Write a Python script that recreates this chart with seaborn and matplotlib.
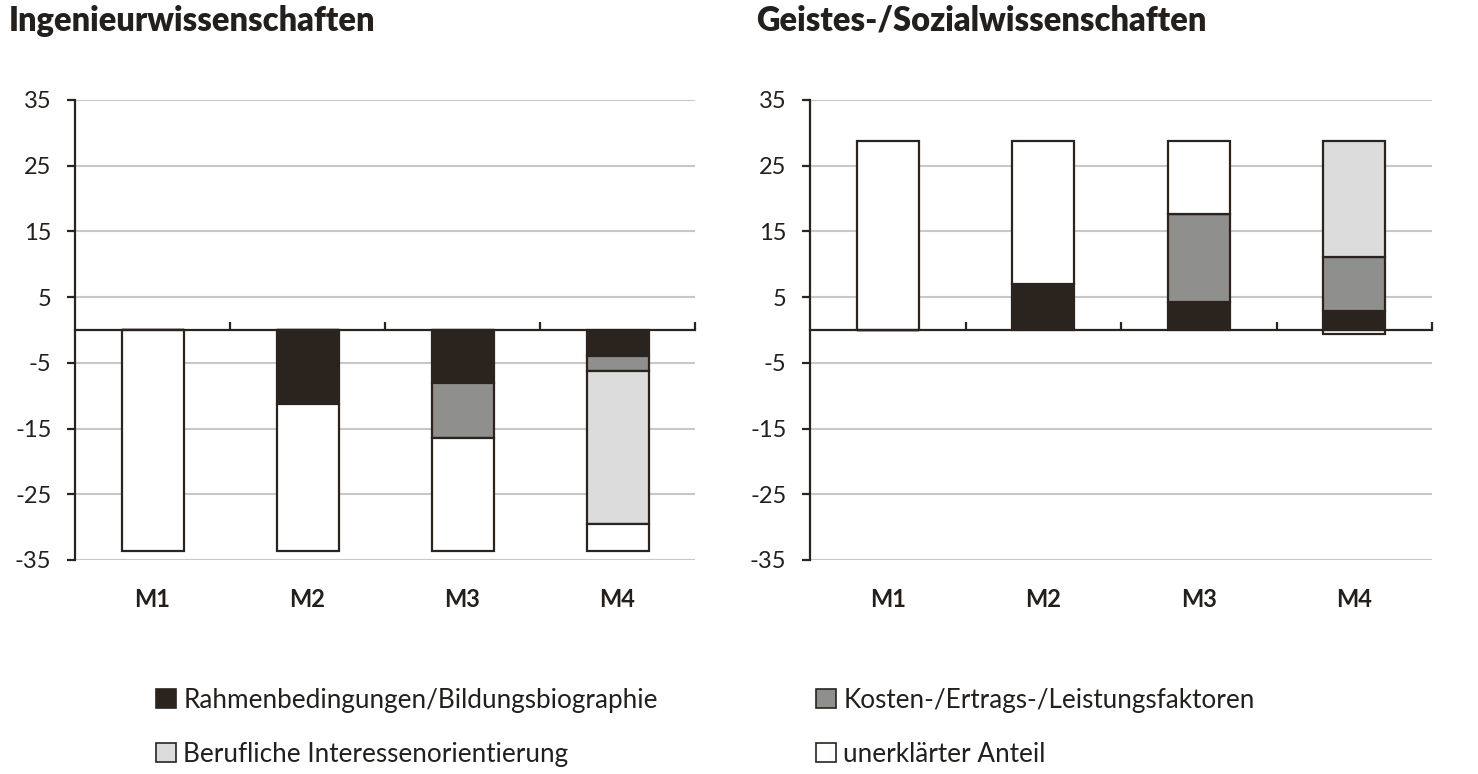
import matplotlib
matplotlib.use("Agg")
import matplotlib.pyplot as plt
import seaborn as sns
import numpy as np
import pandas as pd
from matplotlib.patches import Patch
from matplotlib.ticker import FixedLocator

# Data
models = ["M1", "M2", "M3", "M4"]
components = ["Rahmenbedingungen/Bildungsbiographie",
              "Kosten-/Ertrags-/Leistungsfaktoren",
              "Berufliche Interessenorientierung",
              "unerklärter Anteil"]

ing_rahmen = [0.0, -11.2, -8.1, -4.0]
ing_kosten = [0.0, 0.0, -8.3, -2.2]
ing_beruf = [0.0, 0.0, 0.0, -23.3]
ing_rest = [-33.6, -22.4, -17.2, -4.1]

geist_rahmen = [0.0, 7.0, 4.3, 2.9]
geist_kosten = [0.0, 0.0, 13.3, 8.2]
geist_beruf = [0.0, 0.0, 0.0, 17.7]
geist_rest = [28.8, 21.8, 11.2, -0.6]

titles = ["Ingenieurwissenschaften", "Geistes-/Sozialwissenschaften"]
yticks = [35, 25, 15, 5, -5, -15, -25, -35]

colors = ["#2b231e", "#8f8f8d", "#dcdcdc", "#ffffff"]
edge = "#2b231e"
text_col = "#231f1c"

sns.set_style("white")
plt.rcParams["font.family"] = ["Lato", "DejaVu Sans"]
plt.rcParams["text.color"] = text_col
plt.rcParams["axes.unicode_minus"] = False


def draw_panel(ax, series, title, title_x):
    df = pd.DataFrame({"Modell": models})
    pos = np.zeros(len(models))
    neg = np.zeros(len(models))
    for name, vals, col in zip(components, series, colors):
        vals = np.array(vals)
        # positive and negative parts stack separately (like Excel)
        bottom = np.where(vals >= 0, pos, neg)
        df["wert"] = vals
        sns.barplot(data=df, x="Modell", y="wert", order=models, color=col,
                    width=0.4, bottom=bottom, edgecolor=edge, linewidth=1.6,
                    saturation=1, errorbar=None, ax=ax, zorder=3)
        pos = pos + np.where(vals >= 0, vals, 0)
        neg = neg + np.where(vals < 0, vals, 0)

    ax.set_ylim(-35, 35)
    ax.set_xlim(-0.5, 3.5)
    ax.set_yticks(yticks)
    ax.yaxis.grid(True, color="#c8c8c8", linewidth=1.5, zorder=0)
    ax.set_axisbelow(True)
    ax.set_xlabel("")
    ax.set_ylabel("")
    for s in ["top", "right"]:
        ax.spines[s].set_visible(False)
    ax.spines["left"].set_color(edge)
    ax.spines["left"].set_linewidth(1.6)
    ax.spines["bottom"].set_position(("data", 0))
    ax.spines["bottom"].set_color(edge)
    ax.spines["bottom"].set_linewidth(1.6)
    ax.spines["bottom"].set_zorder(4)
    ax.tick_params(axis="y", direction="out", length=6, width=1.6, color=edge,
                   labelsize=17, labelcolor=text_col, pad=11, left=True)
    ax.xaxis.set_minor_locator(FixedLocator([0.5, 1.5, 2.5, 3.5]))
    ax.tick_params(axis="x", which="minor", direction="in", length=6, width=1.6,
                   color=edge, bottom=True)
    ax.tick_params(axis="x", which="major", length=0, pad=186, labelsize=17,
                   labelcolor=text_col)
    for lab in ax.get_xticklabels():
        lab.set_fontweight("bold")
    ax.figure.text(title_x / 1478, 1 - 21 / 774, title, fontsize=23.5,
                   fontweight="heavy", color=text_col, ha="left", va="center")


fig = plt.figure(figsize=(14.78, 7.74), dpi=100)
ax1 = fig.add_axes([75 / 1478, 1 - 560 / 774, 620 / 1478, 460 / 774])
ax2 = fig.add_axes([810 / 1478, 1 - 560 / 774, 622 / 1478, 460 / 774])

draw_panel(ax1, [ing_rahmen, ing_kosten, ing_beruf, ing_rest], titles[0], 9)
draw_panel(ax2, [geist_rahmen, geist_kosten, geist_beruf, geist_rest], titles[1], 756)

handles = [Patch(facecolor=c, edgecolor=edge, linewidth=1.2) for c in colors]
leg_kw = dict(frameon=False, fontsize=18.8, handlelength=0.75, handleheight=0.75,
              handletextpad=0.3, labelspacing=1.1, loc="upper left",
              borderaxespad=0, borderpad=0)
leg1 = fig.legend([handles[0], handles[2]], [components[0], components[2]],
                  bbox_to_anchor=(156 / 1478, 1 - 688 / 774), **leg_kw)
leg2 = fig.legend([handles[1], handles[3]], [components[1], components[3]],
                  bbox_to_anchor=(816 / 1478, 1 - 688 / 774), **leg_kw)
for leg in (leg1, leg2):
    for t in leg.get_texts():
        t.set_color(text_col)

fig.savefig("out.png", dpi=100, facecolor="white")
